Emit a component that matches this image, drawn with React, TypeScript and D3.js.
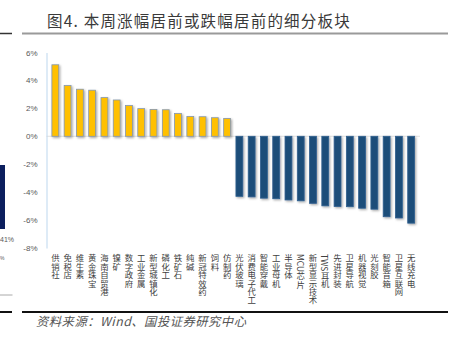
import React, { useEffect, useRef } from "react";
import * as d3 from "d3";

// 本周涨幅居前 (positive) and 跌幅居前 (negative) sub-sectors
const upNames = ["供销社", "免税店", "维生素", "黄金珠宝", "海南自贸港", "镍矿", "数字政府", "工业金属", "新型城镇化", "磷化工", "铁矿石", "纯碱", "新冠特效药", "饲料", "仿制药"];
const upValues = [5.12, 3.63, 3.37, 3.3, 2.77, 2.6, 2.2, 1.98, 1.92, 1.9, 1.63, 1.42, 1.4, 1.33, 1.28];
const downNames = ["光伏玻璃", "消费电子代工", "智能穿戴", "工业母机", "半导体", "MCU芯片", "新型显示技术", "TWS耳机", "先进封装", "卫星导航", "机器视觉", "光刻胶", "智能音箱", "卫星互联网", "无线充电"];
const downValues = [-4.3, -4.34, -4.43, -4.47, -4.56, -4.62, -4.8, -4.98, -5.03, -5.04, -5.15, -5.22, -5.76, -5.85, -6.22];
const yTicks = [6, 4, 2, 0, -2, -4, -6, -8];

const W = 452;
const H = 354;

const App = () => {
  const svgRef = useRef<SVGSVGElement>(null);

  const names = [...upNames, ...downNames];
  const values = [...upValues, ...downValues];

  useEffect(() => {
    const svg = d3.select(svgRef.current);

    const x = d3.scaleBand<string>().domain(names).range([46.5, 420]).padding(0.44);
    const y = d3.scaleLinear().domain([-8, 6]).range([248, 52.5]);

    // y axis
    const yAxis = d3
      .axisLeft(y)
      .tickValues(yTicks)
      .tickSize(0)
      .tickPadding(9)
      .tickFormat((d) => d + "%");
    const gy = svg.select<SVGGElement>(".y-axis").attr("transform", "translate(46.5,0)").call(yAxis);
    gy.select(".domain").attr("stroke", "#bdd7ee").attr("stroke-width", 1);
    gy.selectAll("text")
      .attr("fill", "#595959")
      .style("font", "8px 'Liberation Sans', Arial, sans-serif");

    // zero line
    svg
      .select(".zero")
      .attr("x1", 46.5)
      .attr("x2", 420)
      .attr("y1", y(0))
      .attr("y2", y(0))
      .attr("stroke", "#d9d9d9")
      .attr("stroke-width", 0.8);

    svg
      .select(".bars")
      .selectAll("rect")
      .data(values)
      .join("rect")
      .attr("x", (v, i) => x(names[i])!)
      .attr("width", x.bandwidth())
      .attr("y", (v) => (v >= 0 ? y(v) : y(0)))
      .attr("height", (v) => Math.abs(y(v) - y(0)))
      .attr("fill", (v) => (v >= 0 ? "#ffc000" : "#1f4e79"))
      .attr("stroke", (v) => (v >= 0 ? "#8497b0" : "#2f5f8f"))
      .attr("stroke-width", 0.8)
      .attr("filter", "url(#shadow)");

    svg
      .select(".labels")
      .selectAll("text")
      .data(names)
      .join("text")
      .attr("x", (d) => x(d)! + x.bandwidth() / 2)
      .attr("y", 254)
      .attr("fill", "#404040")
      .style("writing-mode", "vertical-rl")
      .style("font", "8.4px 'Noto Sans CJK SC', sans-serif")
      .text((d) => d);
  }, [names, values]);

  return (
    <svg ref={svgRef} width={W} height={H} style={{ display: "block", position: "absolute", left: 0, top: 0, background: "#fff" }}>
      <defs>
        <filter id="shadow" x="-50%" y="-10%" width="200%" height="130%">
          <feDropShadow dx="1.2" dy="1.2" stdDeviation="0.8" floodColor="#000" floodOpacity="0.35" />
        </filter>
      </defs>
      {/* title */}
      <text x={47} y={27} fill="#3a3a3a" style={{ font: "15.5px 'Noto Sans CJK SC', sans-serif", letterSpacing: "1.2px" }}>
        图4. 本周涨幅居前或跌幅居前的细分板块
      </text>
      <line x1={0} x2={12} y1={33.5} y2={33.5} stroke="#333" strokeWidth={1.5} />
      <line x1={22} x2={448} y1={33.5} y2={33.5} stroke="#9a9a9a" strokeWidth={2} />

      {/* cut-off neighbour chart on the left */}
      <rect x={0} y={165} width={5} height={64} fill="#0c1f5e" />
      <text x={0} y={242} fill="#595959" style={{ font: "7px 'Liberation Sans', Arial, sans-serif" }}>
        41%
      </text>
      <text x={0} y={260} fill="#595959" style={{ font: "5px 'Liberation Sans', Arial, sans-serif" }}>
        %
      </text>
      <line x1={0} x2={12.5} y1={295} y2={295} stroke="#aaa" strokeWidth={1} />

      <line className="zero" />
      <g className="bars" />
      <g className="y-axis" />
      <g className="labels" />

      {/* footer */}
      <line x1={0} x2={12} y1={312} y2={312} stroke="#111" strokeWidth={2} />
      <line x1={22} x2={448} y1={312} y2={312} stroke="#111" strokeWidth={2} />
      <text x={36} y={326} fill="#555" style={{ font: "italic 12.3px 'Noto Sans CJK SC', sans-serif", letterSpacing: "0.5px" }}>
        资料来源：Wind、国投证券研究中心
      </text>
    </svg>
  );
};

export default App;
